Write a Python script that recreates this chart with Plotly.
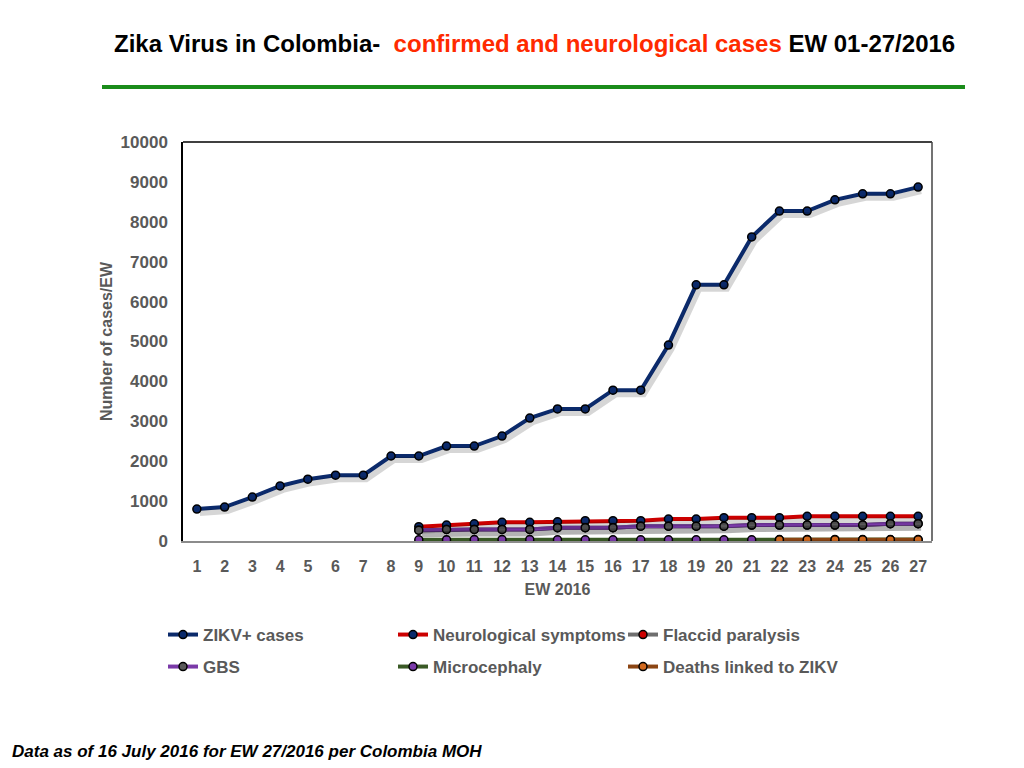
import plotly.graph_objects as go

weeks = list(range(1, 28))
wk9 = list(range(9, 28))
wk22 = list(range(22, 28))

zikv_cases = [800, 850, 1100, 1380, 1550, 1650, 1650, 2130, 2130, 2380, 2380, 2630, 3080,
              3310, 3310, 3780, 3780, 4910, 6420, 6420, 7620, 8270, 8270, 8550, 8700, 8700, 8870]
neuro = [360, 400, 430, 470, 470, 480, 510, 510, 510, 550, 550, 585, 585, 585, 620, 620, 620, 620, 620]
flaccid = [270, 290, 290, 290, 290, 335, 335, 335, 370, 370, 370, 370, 400, 400, 400, 400, 400, 435, 435]
gbs = [270, 290, 290, 290, 290, 335, 335, 335, 370, 370, 370, 370, 400, 400, 400, 400, 400, 435, 435]
microcephaly = [30, 30, 35, 35, 35, 30, 30, 30, 30, 30, 30, 30, 30, 35, 35, 35, 35, 35, 35]
deaths = [30, 30, 30, 30, 30, 30]

series = [
    ("ZIKV+ cases", weeks, zikv_cases, "#0b2a6b", "#0b2a6b", "legend"),
    ("Neurological symptoms", wk9, neuro, "#cc0000", "#0b2a6b", "legend"),
    ("Flaccid paralysis", wk9, flaccid, "#6e6e6e", "#cc0000", "legend"),
    ("GBS", wk9, gbs, "#7a3aa8", "#5a5a5a", "legend2"),
    ("Microcephaly", wk9, microcephaly, "#3a5a26", "#7a3aa8", "legend2"),
    ("Deaths linked to ZIKV", wk22, deaths, "#8b4513", "#d2691e", "legend2"),
]

# page offset (body margin) and plot box in page pixels
OFF = 8
PL, PR, PT, PB = 183, 932, 142, 541
W, H = 1024, 768
pw, ph = PR - PL, PB - PT
XR = [0.5, 27.5]
YR = [0, 10000]
ux = pw / (XR[1] - XR[0])
uy = ph / (YR[1] - YR[0])
sdx, sdy = 3, 4  # shadow offset in px

fig = go.Figure()
# shadows on an overlay axis shifted by a few pixels
for name, xs, ys, lc, mc, lg in series:
    fig.add_trace(go.Scatter(
        x=xs, y=ys, mode="lines", showlegend=False, hoverinfo="skip",
        line=dict(color="rgba(0,0,0,0.16)", width=6),
        xaxis="x2", yaxis="y2",
    ))
for name, xs, ys, lc, mc, lg in series:
    fig.add_trace(go.Scatter(
        x=xs, y=ys, name="<b>%s</b>" % name, mode="lines+markers", legend=lg,
        line=dict(color=lc, width=4),
        marker=dict(color=mc, size=8, line=dict(color="black", width=1.5)),
    ))

def px(xp):
    return (xp - PL) / pw
def py(yp):
    return (PB - yp) / ph

legfont = dict(size=17, color="#595959", family="Liberation Sans, Arial, sans-serif")
fig.update_layout(
    width=W, height=H,
    paper_bgcolor="white", plot_bgcolor="white",
    margin=dict(l=PL - OFF, r=W - (PR - OFF), t=PT - OFF, b=H - (PB - OFF)),
    font=dict(family="Liberation Sans, Arial, sans-serif", color="#595959"),
    showlegend=True,
    legend=dict(
        orientation="h", x=px(163), y=py(635), xanchor="left", yanchor="middle",
        entrywidth=185, entrywidthmode="pixels", itemwidth=30,
        font=legfont, bgcolor="rgba(0,0,0,0)",
    ),
    legend2=dict(
        orientation="h", x=px(163), y=py(667), xanchor="left", yanchor="middle",
        entrywidth=185, entrywidthmode="pixels", itemwidth=30,
        font=legfont, bgcolor="rgba(0,0,0,0)",
    ),
    xaxis=dict(
        range=XR, tickmode="array", tickvals=weeks, ticktext=["<b>%d</b>" % w for w in weeks],
        showgrid=False, zeroline=False, showline=True, linecolor="#8c8c8c", linewidth=2,
        ticks="", ticklabelstandoff=10, tickfont=dict(size=16, color="#595959"),
        title=dict(text="<b>EW 2016</b>", font=dict(size=16, color="#595959"), standoff=10),
    ),
    yaxis=dict(
        range=YR, tickmode="array", tickvals=list(range(0, 10001, 1000)),
        ticktext=["<b>%d</b>" % v for v in range(0, 10001, 1000)],
        showgrid=False, zeroline=False, showline=True, linecolor="black", linewidth=1.5,
        ticks="", ticklabelstandoff=10,
        tickfont=dict(size=17, color="#595959"),
        title=dict(text="<b>Number of cases/EW</b>", font=dict(size=16, color="#595959"), standoff=4),
    ),
    xaxis2=dict(range=[XR[0] - sdx / ux, XR[1] - sdx / ux], overlaying="x", visible=False),
    yaxis2=dict(range=[YR[0] + sdy / uy, YR[1] + sdy / uy], overlaying="y", visible=False),
)

# frame top/right
fig.add_shape(type="line", xref="paper", yref="paper", x0=0, x1=1, y0=1, y1=1,
              line=dict(color="black", width=1.5))
fig.add_shape(type="line", xref="paper", yref="paper", x0=1, x1=1, y0=0, y1=1,
              line=dict(color="#444444", width=1.5))

# title
fig.add_annotation(
    xref="paper", yref="paper", x=px(534), y=py(44), xanchor="center", yanchor="middle",
    showarrow=False,
    text="<b><span style='color:black'>Zika Virus in Colombia- </span>"
         "<span style='color:#ff2a00'> confirmed and neurological cases</span>"
         "<span style='color:black'> EW 01-27/2016</span></b>",
    font=dict(size=24, family="Liberation Sans, Arial, sans-serif"),
)
# green rule
fig.add_shape(type="line", xref="paper", yref="paper", x0=px(102), x1=px(965), y0=py(87), y1=py(87),
              line=dict(color="#1a8c1a", width=4))
# footer
fig.add_annotation(
    xref="paper", yref="paper", x=px(10), y=py(751), xanchor="left", yanchor="middle",
    showarrow=False,
    text="<b><i>Data as of 16 July 2016 for EW 27/2016 per Colombia MOH</i></b>",
    font=dict(size=17, color="black", family="Liberation Sans, Arial, sans-serif"),
)

fig.write_html("out.html")
